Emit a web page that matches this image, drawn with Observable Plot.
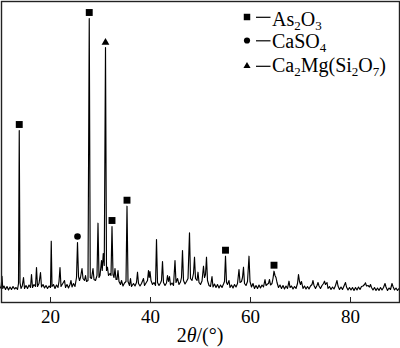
<!DOCTYPE html>
<html><head><meta charset="utf-8">
<script src="https://cdn.jsdelivr.net/npm/d3@7"></script>
<script src="https://cdn.jsdelivr.net/npm/@observablehq/plot@0.6"></script>
<style>body{margin:0;background:#fff}</style>
</head><body><div id="chart"></div>
<script>
// XRD pattern: 2θ (degrees) and intensity (a.u.)
const twoTheta = [
10.0,10.15,10.3,10.45,10.7,11.0,11.3,11.6,11.9,12.2,12.5,12.8,13.1,13.4,13.6,13.75,13.9,14.1,14.35,14.6,14.8,15.1,15.4,15.7,16.0,16.2,16.4,16.7,17.0,17.2,17.4,17.7,18.0,18.2,18.5,18.8,19.1,19.4,19.7,20.0,20.15,20.3,20.6,20.9,21.2,21.5,21.7,21.9,22.1,22.4,22.8,23.0,23.3,23.6,23.9,24.1,24.3,24.6,24.9,25.2,25.4,25.6,25.8,26.0,26.3,26.5,26.8,27.0,27.2,27.5,27.75,27.95,28.2,28.5,28.7,29.0,29.3,29.5,29.7,29.9,30.2,30.35,30.55,30.75,31.0,31.2,31.4,31.6,31.9,32.1,32.3,32.5,32.7,32.9,33.1,33.3,33.5,33.7,34.0,34.2,34.5,34.8,35.1,35.3,35.5,35.8,36.0,36.2,36.6,36.9,37.2,37.4,37.6,37.9,38.2,38.6,38.8,39.1,39.4,39.6,39.75,39.9,40.1,40.4,40.7,41.0,41.2,41.4,41.7,42.0,42.2,42.4,42.6,42.9,43.2,43.4,43.6,43.8,44.0,44.3,44.6,44.9,45.1,45.4,45.7,46.0,46.2,46.4,46.6,46.9,47.2,47.5,47.8,48.0,48.3,48.6,48.8,49.0,49.3,49.5,49.7,50.0,50.3,50.6,50.8,51.0,51.2,51.4,51.7,52.0,52.3,52.5,52.8,53.1,53.4,53.7,54.0,54.3,54.6,54.8,55.0,55.2,55.4,55.7,55.9,56.2,56.5,56.8,57.1,57.4,57.7,57.9,58.2,58.4,58.6,58.8,59.1,59.4,59.7,59.9,60.2,60.5,60.8,61.1,61.4,61.7,62.0,62.3,62.6,62.9,63.1,63.4,63.6,63.8,64.0,64.3,64.5,64.7,64.9,65.1,65.3,65.6,65.9,66.2,66.5,66.8,67.1,67.4,67.7,67.9,68.2,68.5,68.8,69.1,69.4,69.6,69.8,70.0,70.2,70.5,70.8,71.1,71.4,71.7,72.0,72.3,72.5,72.7,73.0,73.3,73.5,73.7,74.0,74.3,74.6,74.8,75.0,75.3,75.5,75.8,76.1,76.4,76.7,77.0,77.3,77.5,77.8,78.1,78.4,78.7,79.0,79.2,79.5,79.8,80.1,80.4,80.7,81.0,81.3,81.6,81.9,82.2,82.5,82.8,83.0,83.2,83.5,83.8,84.0,84.2,84.5,84.8,85.1,85.4,85.7,86.0,86.3,86.6,86.9,87.1,87.4,87.7,88.0,88.3,88.5,88.8,89.1,89.4,89.7,90.0];
const intensity = [
155,180,273,150,175,140,170,135,165,140,170,145,160,140,200,1730,210,150,175,260,150,180,150,185,160,290,160,190,170,360,170,200,310,165,190,155,180,150,175,160,623,170,190,150,185,160,220,360,170,195,230,160,190,155,190,230,165,200,170,260,610,270,230,260,350,250,230,280,220,230,2850,260,250,350,240,230,280,803,260,280,430,330,500,380,2560,330,363,280,300,280,770,290,260,350,240,240,330,220,190,230,175,205,220,973,220,180,250,170,200,175,210,313,200,175,200,250,180,205,230,330,260,320,230,190,210,180,640,210,180,205,230,420,210,180,205,280,220,270,185,205,180,430,210,250,190,215,260,530,230,195,220,250,707,250,230,300,463,250,230,313,210,190,225,373,260,290,463,230,180,170,270,165,195,160,190,155,185,160,195,220,473,210,190,230,160,185,155,190,165,200,340,210,220,260,363,200,180,220,473,220,165,200,150,180,150,185,155,185,165,240,180,195,200,240,185,200,250,323,280,260,210,160,185,150,180,145,175,150,223,160,175,145,170,150,200,290,220,190,220,150,175,145,170,145,175,190,230,180,150,180,210,175,150,180,200,223,190,210,150,170,140,165,145,180,230,175,140,165,140,175,210,165,135,160,135,160,130,160,135,165,140,170,175,190,207,175,180,165,190,160,135,160,130,155,130,160,135,160,200,165,130,155,140,200,170,135,155,130,150,145];
const xTicks = [20, 40, 60, 80];
// phase markers (peak position, peak intensity)
const as2o3Pos = [13.75, 27.75, 32.3, 35.3, 55.0, 64.7];
const as2o3Int = [1730, 2850, 770, 973, 473, 323];
const caso4Pos = [25.4];
const caso4Int = [610];
const camgPos = [31.0];
const camgInt = [2560];

const pattern = twoTheta.map((x, i) => ({x, y: intensity[i]}));
const mk = (p, v) => p.map((x, i) => ({x, y: v[i]}));

const FONT = "Liberation Serif, Times New Roman, serif";
const plot = Plot.plot({
  width: 400, height: 348,
  marginTop: 1, marginBottom: 45, marginLeft: 0, marginRight: 0,
  style: {fontFamily: FONT, fontSize: "19px", color: "#000", background: "#fff"},
  x: {domain: [10, 90]},
  y: {domain: [0, 3020], axis: null},
  marks: [
    Plot.line(pattern, {x: "x", y: "y", stroke: "#000", strokeWidth: 1.15}),
    Plot.dot(mk(as2o3Pos, as2o3Int), {x: "x", y: "y", symbol: "square", r: 3.9, fill: "#000", dy: -6}),
    Plot.dot(mk(caso4Pos, caso4Int), {x: "x", y: "y", symbol: "circle", r: 3.3, fill: "#000", dy: -6}),
    Plot.dot(mk(camgPos, camgInt), {x: "x", y: "y", symbol: "triangle", r: 2.9, fill: "#000", dy: -5}),
    Plot.tickX(xTicks, {x: d => d, insetTop: 296, insetBottom: 1, stroke: "#222", strokeWidth: 1}),
    Plot.axisX({ticks: xTicks, tickSize: 0, tickPadding: 6, fontSize: 19, fontFamily: FONT, label: null, fill: "#000"}),
    Plot.frame({insetLeft: 1, insetRight: 1, insetBottom: 1, stroke: "#222", strokeWidth: 1.4})
  ]
});
document.getElementById("chart").appendChild(plot);

// legend and axis title
const svg = d3.select(plot);
const legendRows = [
  {sym: d3.symbolSquare, size: 42, cy: 17, base: 26, parts: [["As",0],["2",1],["O",0],["3",1]]},
  {sym: d3.symbolCircle, size: 30, cy: 40.5, base: 48, parts: [["CaSO",0],["4",1]]},
  {sym: d3.symbolTriangle, size: 22, cy: 66, base: 71.5, parts: [["Ca",0],["2",1],["Mg(Si",0],["2",1],["O",0],["7",1],[")",0]]}
];
const lg = svg.append("g").style("font-family", FONT);
legendRows.forEach(r => {
  lg.append("path").attr("d", d3.symbol(r.sym, r.size)()).attr("transform", `translate(247,${r.cy})`).attr("fill", "#000");
  lg.append("line").attr("x1", 256).attr("x2", 270.5).attr("y1", r.cy + 0.3).attr("y2", r.cy + 0.3).attr("stroke", "#000").attr("stroke-width", 1.2);
  const t = lg.append("text").attr("x", 272).attr("y", r.base)
    .style("font-size", "20px").style("text-anchor", "start").attr("fill", "#000");
  let shifted = false;
  r.parts.forEach(([s, sub]) => {
    const ts = t.append("tspan").text(s);
    if (sub && !shifted) { ts.attr("dy", 4).style("font-size", "13px"); shifted = true; }
    else if (sub) { ts.style("font-size", "13px"); }
    else if (!sub && shifted) { ts.attr("dy", -4); shifted = false; }
  });
});
const title = svg.append("text").attr("x", 200).attr("y", 342)
  .style("text-anchor", "middle").style("font-family", FONT).style("font-size", "20px").attr("fill", "#000");
title.append("tspan").text("2");
title.append("tspan").style("font-style", "italic").text("θ");
title.append("tspan").text("/(°)");
</script></body></html>
